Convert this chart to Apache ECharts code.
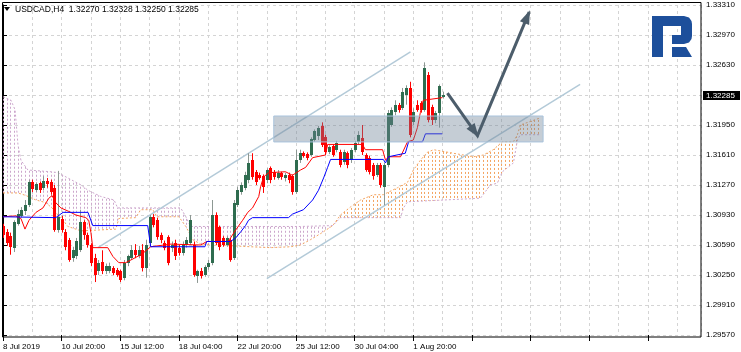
<!DOCTYPE html>
<html><head><meta charset="utf-8">
<script src="https://cdn.jsdelivr.net/npm/echarts@6/dist/echarts.min.js"></script>
<style>html,body{margin:0;padding:0;background:#fff}#c{width:741px;height:352px}</style>
</head><body><div id="c"></div>
<script>
// ---- data (H4 bars, index 0 = 8 Jul 2019) ----
const symbol = 'USDCAD,H4';
const xLabels = ['8 Jul 2019','10 Jul 20:00','15 Jul 12:00','18 Jul 04:00','22 Jul 20:00','25 Jul 12:00','30 Jul 04:00','1 Aug 20:00'];
const yTicks = {min:1.2957, max:1.3331, step:0.0034};
const open = [1.3080,1.3074,1.3069,1.3056,1.3083,1.3092,1.3097,1.3104,1.3130,1.3121,
1.3129,1.3124,1.3131,1.3130,1.3124,1.3076,1.3089,1.3074,1.3065,1.3044,
1.3046,1.3053,1.3085,1.3070,1.3059,1.3044,1.3029,1.3040,1.3029,1.3030,
1.3033,1.3031,1.3029,1.3022,1.3039,1.3044,1.3053,1.3047,1.3053,1.3033,
1.3061,1.3091,1.3087,1.3070,1.3061,1.3068,1.3056,1.3061,1.3056,1.3050,
1.3059,1.3061,1.3059,1.3024,1.3029,1.3025,1.3034,1.3039,1.3093,1.3079,
1.3067,1.3059,1.3065,1.3044,1.3104,1.3119,1.3124,1.3133,1.3155,1.3142,
1.3138,1.3137,1.3133,1.3146,1.3142,1.3135,1.3141,1.3135,1.3138,1.3137,
1.3119,1.3155,1.3163,1.3162,1.3161,1.3178,1.3183,1.3194,1.3181,1.3164,
1.3171,1.3167,1.3164,1.3153,1.3163,1.3155,1.3167,1.3176,1.3180,1.3161,
1.3158,1.3150,1.3138,1.3150,1.3125,1.3150,1.3195,1.3210,1.3218,1.3214,
1.3229,1.3237,1.3198,1.3218,1.3220,1.3212,1.3252,1.3215,1.3201,1.3209,
1.32270];
const close = [1.3070,1.3061,1.3057,1.3085,1.3094,1.3099,1.3104,1.3130,1.3122,1.3128,
1.3121,1.3131,1.3128,1.3119,1.3076,1.3091,1.3076,1.3057,1.3042,1.3053,
1.3063,1.3085,1.3070,1.3059,1.3039,1.3025,1.3039,1.3029,1.3035,1.3035,
1.3027,1.3025,1.3019,1.3039,1.3046,1.3053,1.3048,1.3053,1.3033,1.3059,
1.3091,1.3082,1.3068,1.3065,1.3056,1.3039,1.3059,1.3046,1.3050,1.3059,
1.3065,1.3087,1.3025,1.3029,1.3024,1.3034,1.3039,1.3093,1.3061,1.3057,
1.3059,1.3067,1.3042,1.3107,1.3121,1.3127,1.3138,1.3152,1.3136,1.3130,
1.3135,1.3125,1.3144,1.3133,1.3136,1.3141,1.3136,1.3138,1.3133,1.3119,
1.3155,1.3163,1.3160,1.3158,1.3179,1.3188,1.3192,1.3172,1.3164,1.3170,
1.3161,1.3175,1.3150,1.3164,1.3150,1.3167,1.3175,1.3184,1.3164,1.3144,
1.3142,1.3137,1.3150,1.3127,1.3150,1.3209,1.3212,1.3218,1.3212,1.3232,
1.3237,1.3184,1.3210,1.3212,1.3212,1.3260,1.3201,1.3201,1.3209,1.3239,
1.32285];
const low = [1.3067,1.3058,1.3048,1.3051,1.3081,1.3090,1.3093,1.3102,1.3119,1.3119,
1.3118,1.3121,1.3124,1.3116,1.3074,1.3073,1.3073,1.3053,1.3040,1.3040,
1.3043,1.3051,1.3065,1.3056,1.3035,1.3017,1.3025,1.3026,1.3026,1.3027,
1.3025,1.3023,1.3017,1.3019,1.3035,1.3042,1.3044,1.3044,1.3029,1.3022,
1.3059,1.3079,1.3065,1.3061,1.3053,1.3036,1.3051,1.3042,1.3047,1.3047,
1.3056,1.3059,1.3023,1.3016,1.3021,1.3023,1.3031,1.3036,1.3059,1.3053,
1.3057,1.3057,1.3040,1.3042,1.3102,1.3116,1.3121,1.3129,1.3133,1.3127,
1.3133,1.3118,1.3129,1.3129,1.3133,1.3133,1.3133,1.3131,1.3129,1.3116,
1.3117,1.3152,1.3158,1.3155,1.3159,1.3176,1.3178,1.3170,1.3162,1.3162,
1.3159,1.3164,1.3147,1.3150,1.3146,1.3152,1.3164,1.3173,1.3161,1.3142,
1.3139,1.3133,1.3136,1.3124,1.3104,1.3147,1.3193,1.3206,1.3209,1.3212,
1.3218,1.3181,1.3195,1.3210,1.3209,1.3210,1.3198,1.3195,1.3197,1.3192,
1.32250];
const high = [1.3083,1.3077,1.3073,1.3087,1.3099,1.3102,1.3110,1.3133,1.3133,1.3130,
1.3131,1.3137,1.3135,1.3133,1.3127,1.3143,1.3092,1.3077,1.3067,1.3057,
1.3067,1.3099,1.3087,1.3073,1.3061,1.3049,1.3042,1.3053,1.3038,1.3039,
1.3035,1.3033,1.3031,1.3042,1.3048,1.3059,1.3060,1.3058,1.3060,1.3065,
1.3093,1.3094,1.3090,1.3073,1.3064,1.3070,1.3063,1.3065,1.3059,1.3063,
1.3068,1.3093,1.3063,1.3031,1.3033,1.3036,1.3042,1.3110,1.3096,1.3081,
1.3069,1.3069,1.3067,1.3110,1.3125,1.3130,1.3142,1.3163,1.3163,1.3144,
1.3141,1.3139,1.3146,1.3148,1.3144,1.3144,1.3142,1.3141,1.3141,1.3139,
1.3167,1.3167,1.3165,1.3164,1.3181,1.3190,1.3194,1.3198,1.3184,1.3172,
1.3173,1.3177,1.3167,1.3167,1.3165,1.3169,1.3177,1.3188,1.3195,1.3163,
1.3160,1.3152,1.3152,1.3152,1.3152,1.3212,1.3215,1.3223,1.3220,1.3237,
1.3240,1.3244,1.3214,1.3223,1.3222,1.3266,1.3255,1.3218,1.3211,1.3241,
1.32328];
// Ichimoku lines, vertices [bar index, price]
const tenkan = [[0,1.3091],[3.5,1.3092],[4.9,1.3089],[6,1.3077],[7.1,1.3087],[9,1.3096],[10.9,1.3101],[12.5,1.3112],[13.4,1.3115],[14.4,1.3107],[15.8,1.3101],[18,1.3097],[19.9,1.3093],[22.6,1.3090],[23.4,1.3087],[24,1.3073],[24.5,1.3056],[28.6,1.3056],[30,1.3046],[31.6,1.3039],[33.5,1.3039],[34.9,1.3042],[37.6,1.3048],[39.2,1.3053],[40.3,1.3057],[45.8,1.3060],[54,1.3059],[55.6,1.3063],[61.3,1.3063],[62.1,1.3067],[63.5,1.3076],[65.4,1.3087],[66.8,1.3096],[68.1,1.3101],[69.8,1.3114],[70.3,1.3125],[71.1,1.3136],[72.5,1.3141],[77.1,1.3142],[79,1.3138],[81.2,1.3144],[82.6,1.3147],[84.5,1.3158],[88,1.3161],[88.6,1.3173],[98.1,1.3173],[98.9,1.3167],[103.6,1.3167],[104.4,1.3155],[105.2,1.3159],[108.5,1.3159],[110.4,1.3176],[112,1.3178],[113.1,1.3192],[113.9,1.3209],[114.7,1.3223],[119.9,1.3226]];
const kijun = [[0,1.3091],[14.4,1.3090],[16.4,1.3096],[23.2,1.3096],[24.5,1.3081],[39.5,1.3081],[40.3,1.3057],[55.1,1.3057],[55.6,1.3063],[62.1,1.3063],[63.5,1.3067],[64.9,1.3074],[66.2,1.3081],[67,1.3087],[68.1,1.3090],[77.9,1.3090],[79,1.3094],[82,1.3099],[84.5,1.3110],[86.1,1.3121],[87.5,1.3135],[88.6,1.3147],[89.4,1.3156],[103.8,1.3156],[104.4,1.3152],[105.2,1.3159],[109.8,1.3163],[110.7,1.3176],[114.5,1.3176],[115.3,1.3185],[119.9,1.3185]];
const spanA = [[0,1.3118],[4.1,1.3118],[6.3,1.3115],[9,1.3110],[11.7,1.3107],[13.9,1.3099],[15,1.3093],[16.4,1.3087],[17.7,1.3080],[21.3,1.3075],[30.8,1.3077],[31.6,1.3089],[36.2,1.3090],[37.6,1.3099],[40.9,1.3099],[42,1.3091],[48,1.3091],[49.9,1.3080],[51.8,1.3065],[54,1.3060],[67.6,1.3057],[73,1.3056],[78.5,1.3057],[81.2,1.3059],[83.9,1.3065],[86.7,1.3072],[90,1.3081],[92.1,1.3093],[94.8,1.3102],[97.6,1.3110],[101.1,1.3116],[103.8,1.3116],[107.7,1.3124],[110.4,1.3130],[112,1.3144],[113.9,1.3155],[115.8,1.3164],[117.5,1.3167],[122.9,1.3163],[128.4,1.3159],[131.1,1.3161],[133.8,1.3167],[136.3,1.3176],[139.3,1.3176],[140.4,1.3184],[141.2,1.3195],[146.6,1.3203]];
const spanB = [[0,1.3227],[2.2,1.3223],[3.3,1.3212],[4.1,1.3172],[4.9,1.3155],[6.8,1.3144],[13.1,1.3142],[15,1.3141],[17.7,1.3135],[21.3,1.3127],[23.2,1.3121],[26.7,1.3114],[30.3,1.3110],[31.3,1.3101],[48.5,1.3101],[49.9,1.3091],[51.2,1.3080],[81.2,1.3080],[90,1.3081],[92.1,1.3090],[108.5,1.3090],[109.3,1.3101],[110.4,1.3108],[130.3,1.3112],[133,1.3127],[134.9,1.3129],[136.3,1.3142],[139.3,1.3152],[140.4,1.3178],[141.2,1.3184],[146.6,1.3184]];
const kumoCross = [0, 90, 146.6];
// drawn objects
const channelUpper = [[25.9,1.3056],[111.2,1.3278]];
const channelLower = [[72,1.3021],[157.5,1.3241]];
const zoneBox = [[73.9,1.32052],[147.4,1.31758]];
const arrowPath = [[121.3,1.3231],[129.5,1.3183],[143.6,1.3323]];
const xMax = 190.5;

// ---- chart ----
const FONT = "'Liberation Sans',Arial,sans-serif";
const last = open.length - 1;
const candles = open.map((o,i)=>[i,o,close[i],low[i],high[i]]);
const THISTLE='#cca6cc', SANDY='#f4a460';
const kumo=[{from:kumoCross[0],to:kumoCross[1],upper:spanB,lower:spanA,color:THISTLE},{from:kumoCross[1],to:kumoCross[2],upper:spanA,lower:spanB,color:SANDY}];
const chart = echarts.init(document.getElementById('c'));
const gridLine = {color:'#d4d4d4', type:[3,3], width:1};
const LOGO='#1d4f9b';
chart.setOption({
  animation:false,
  grid:{left:2,right:40,top:5,bottom:17,show:false},
  xAxis:{type:'value',min:0,max:xMax,interval:16,
    axisLine:{show:false},
    axisTick:{show:true,length:6,lineStyle:{color:'#000'}},
    axisLabel:{align:'left',margin:8,fontSize:8,fontFamily:FONT,color:'#000',showMaxLabel:false,
      formatter:v=>{const k=v/16;return (Number.isInteger(k)&&k<xLabels.length)?xLabels[k]:'';}},
    splitLine:{show:true,lineStyle:gridLine},
    minorTick:{show:false,splitNumber:2},
    minorSplitLine:{show:true,lineStyle:gridLine}},
  yAxis:{type:'value',position:'right',min:yTicks.min,max:yTicks.max,interval:yTicks.step,scale:true,
    axisLine:{show:true,lineStyle:{color:'#000'}},
    axisTick:{show:true,length:4,lineStyle:{color:'#000'}},
    axisLabel:{margin:5,fontSize:8,fontFamily:FONT,color:'#000',
      formatter:v=>Math.abs(v-1.3229)<1e-6?'':v.toFixed(5)},
    splitLine:{show:true,lineStyle:gridLine}},
  graphic:[
    {type:'rect',z:9,shape:{x:2.5,y:2.5,width:698.5,height:334.5},style:{fill:null,stroke:'#000',lineWidth:1}},
    {type:'polygon',z:10,shape:{points:[[4,7],[10,7],[7,11]]},style:{fill:'#000'}},
    {type:'text',x:15,y:5,z:10,style:{text:symbol+'  '+[open[last],high[last],low[last],close[last]].map(v=>v.toFixed(5)).join(' '),font:'8.5px '+FONT,fill:'#000'}},
    {type:'rect',z:10,shape:{x:652,y:16,width:11,height:41},style:{fill:LOGO}},
    {type:'polygon',z:10,shape:{points:[[652,16],[684,16],[689,17.5],[691.5,21],[692,24],[692,36],[691.5,39],[689,42.5],[684,44],[672,44],[672,35],[681,35],[681,26],[663,26],[663,16]]},style:{fill:LOGO}},
    {type:'polygon',z:10,shape:{points:[[672,47],[686,47],[692,57],[672,57]]},style:{fill:LOGO}}
  ],
  series:[
    {type:'custom',name:'kumo',data:[[0,1.31],[90,1.31]],silent:true,z:1,
      renderItem:(p,api)=>{const s=kumo[p.dataIndex];const inR=q=>q[0]>=s.from-1e-9&&q[0]<=s.to+1e-9;
        const up=s.upper.filter(inR).map(q=>api.coord(q));const lo=s.lower.filter(inR).map(q=>api.coord(q)).reverse();
        const poly=up.concat(lo);const ys=poly.map(q=>q[1]);const y0=Math.min(...ys)-2,y1=Math.max(...ys)+2;
        const lines=[];
        for(let b=Math.ceil(s.from);b<=Math.floor(s.to);b++){const x=Math.round(api.coord([b,yTicks.min])[0])+0.5;
          lines.push({type:'line',shape:{x1:x,y1:y0,x2:x,y2:y1},style:{stroke:s.color,lineWidth:1,lineDash:[2,2]}});}
        return {type:'group',clipPath:{type:'polygon',shape:{points:poly}},children:lines};}},
    {type:'line',name:'Senkou A',data:spanA,showSymbol:false,silent:true,z:2,lineStyle:{color:SANDY,width:1,type:[2,2]}},
    {type:'line',name:'Senkou B',data:spanB,showSymbol:false,silent:true,z:2,lineStyle:{color:THISTLE,width:1,type:[2,2]}},
    {type:'line',name:'ch1',data:channelUpper,showSymbol:false,silent:true,z:3,lineStyle:{color:'#b3cad8',width:1.5}},
    {type:'line',name:'ch2',data:channelLower,showSymbol:false,silent:true,z:3,lineStyle:{color:'#b3cad8',width:1.5}},
    {type:'custom',name:'candles',data:candles,encode:{x:0,y:[1,2,3,4]},z:4,silent:true,
      renderItem:(p,api)=>{const i=api.value(0),o=api.value(1),c=api.value(2),l=api.value(3),h=api.value(4);
        const po=api.coord([i,o]),pc=api.coord([i,c]),pl=api.coord([i,l]),ph=api.coord([i,h]);
        const x=Math.round(po[0]);const up=c>=o;const top=Math.round(Math.min(po[1],pc[1])),bot=Math.round(Math.max(po[1],pc[1]));
        return {type:'group',children:[
          {type:'line',shape:{x1:x+0.5,y1:ph[1],x2:x+0.5,y2:pl[1]},style:{stroke:up?'#8d9893':'#ff0000',lineWidth:1}},
          {type:'rect',shape:{x:x-1,y:top,width:3,height:Math.max(1,bot-top)},style:{fill:up?'#2f6c4f':'#ff0000'}}]};}},
    {type:'line',name:'Tenkan',data:tenkan,showSymbol:false,silent:true,z:5,lineStyle:{color:'#ff0000',width:1}},
    {type:'line',name:'Kijun',data:kijun,showSymbol:false,silent:true,z:5,lineStyle:{color:'#0000ff',width:1}},
    {type:'custom',name:'zone',data:[zoneBox[0]],z:6,silent:true,
      renderItem:(p,api)=>{const a=api.coord(zoneBox[0]),b=api.coord(zoneBox[1]);
        return {type:'rect',shape:{x:a[0],y:a[1],width:b[0]-a[0],height:b[1]-a[1]},style:{fill:'rgba(110,130,150,0.4)',stroke:'#a9c3dc',lineWidth:1}};}},
    {type:'custom',name:'arrow',data:[arrowPath[0]],z:7,silent:true,
      renderItem:(p,api)=>{const pts=arrowPath.map(q=>api.coord(q));const col='#4c5d6b';const ch=[{type:'polyline',shape:{points:pts},style:{stroke:col,lineWidth:3,fill:null}}];
        for(let k=1;k<pts.length;k++){const a=pts[k-1],b=pts[k];const dx=b[0]-a[0],dy=b[1]-a[1],L=Math.hypot(dx,dy),ux=dx/L,uy=dy/L;const hl=12,hw=5;
          ch.push({type:'polygon',shape:{points:[[b[0]+ux*2,b[1]+uy*2],[b[0]-ux*hl-uy*hw,b[1]-uy*hl+ux*hw],[b[0]-ux*hl+uy*hw,b[1]-uy*hl-ux*hw]]},style:{fill:col}});}
        return {type:'group',children:ch};}},
    {type:'custom',name:'price',data:[[xMax,close[last]]],z:8,silent:true,clip:false,
      renderItem:(p,api)=>{const q=api.coord([api.value(0),api.value(1)]);
        return {type:'group',children:[
          {type:'rect',shape:{x:q[0]+2,y:q[1]-4.5,width:37,height:9},style:{fill:'#000'}},
          {type:'text',x:q[0]+5,y:q[1],style:{text:close[last].toFixed(5),font:'8px '+FONT,fill:'#fff',verticalAlign:'middle',align:'left'}}]};}}
  ]
});
</script></body></html>
